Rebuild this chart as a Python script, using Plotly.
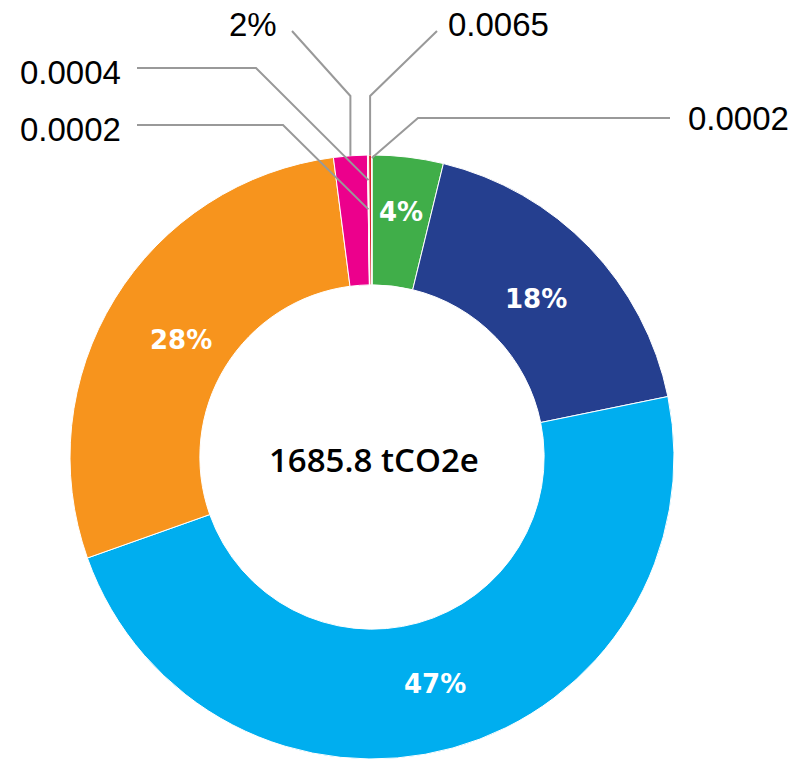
import math
import plotly.graph_objects as go

# ---- data ----
categories = ["Cat 1", "Cat 2", "Cat 3", "Cat 4", "Cat 5", "Cat 6", "Cat 7", "Cat 8", "Cat 9"]
shares = [3.8, 18.0, 47.8, 28.4, 1.8, 0.02, 0.04, 0.16, 0.02]
display_text = ["4%", "18%", "47%", "28%", "2%", "0.0002", "0.0004", "0.0065", "0.0002"]
total_label = "1685.8 tCO2e"
colors = ["#40ae49", "#253f8f", "#00aeef", "#f7941d", "#ec008c", "#8b5ca5", "#f26c4f", "#d7262e", "#a6ce39"]

# ---- layout geometry (pixels) ----
W, H = 798, 761
CX, CY, R = 372, 457, 302
HOLE = 0.57
inside_label_radius = [247, 228, 236, 224]

def px2paper(x, y):
    return x / W, 1 - y / H

# leader line geometry for small slices: (slice index, end radius frac, elbow points, label pos, anchor)
leaders = [
    (4, 1.0, [(292, 31), ("x", 96)], (279, 25), "right"),
    (5, 0.82, [(137, 125), (283, 125)], (123, 129), "right"),
    (6, 0.917, [(137, 68), (256, 68)], (123, 72), "right"),
    (7, 1.0, [(437, 31), ("x", 96)], (446, 25), "left"),
    (8, 0.99, [(670, 118), (418, 118)], (686, 118), "left"),
]

tot = sum(shares)
cum = 0
mids = []
for s in shares:
    mids.append((cum + s / 2) / tot * 2 * math.pi)
    cum += s

def pt(theta, r):
    return CX + r * math.sin(theta), CY - r * math.cos(theta)

x0p, y0p = px2paper(CX - R, CY + R)
x1p, y1p = px2paper(CX + R, CY - R)

fig = go.Figure(go.Pie(
    labels=categories,
    values=shares,
    sort=False,
    direction="clockwise",
    rotation=0,
    hole=HOLE,
    marker=dict(colors=colors, line=dict(color="white", width=1)),
    textinfo="none",
    hoverinfo="label+percent",
    domain=dict(x=[x0p, x1p], y=[max(0, y0p), y1p]),
    showlegend=False,
))

annotations = []
shapes = []

# inside labels for the main slices
for i in range(4):
    x, y = pt(mids[i], inside_label_radius[i])
    xp, yp = px2paper(x, y)
    annotations.append(dict(x=xp, y=yp, xref="paper", yref="paper", text=display_text[i],
                            showarrow=False, xanchor="center", yanchor="middle",
                            font=dict(family="DejaVu Sans", size=26, color="white", weight="bold")))

# leader lines and outside labels
for idx, rf, elbows, lpos, anchor in leaders:
    ex, ey = pt(mids[idx], R * rf)
    pts = []
    for (a, b) in elbows:
        pts.append((ex if a == "x" else a, b))
    pts.append((ex, ey))
    path = ""
    for k, (a, b) in enumerate(pts):
        xp, yp = px2paper(a, b)
        path += ("M" if k == 0 else " L") + f" {xp:.5f},{yp:.5f}"
    shapes.append(dict(type="path", path=path, xref="paper", yref="paper",
                       line=dict(color="#999999", width=2)))
    lx, ly = px2paper(*lpos)
    annotations.append(dict(x=lx, y=ly, xref="paper", yref="paper", text=display_text[idx],
                            showarrow=False, xanchor=anchor, yanchor="middle",
                            font=dict(family="Liberation Sans", size=33, color="black")))

cxp, cyp = px2paper(CX + 2, CY + 2)
annotations.append(dict(x=cxp, y=cyp, xref="paper", yref="paper", text=total_label,
                        showarrow=False, xanchor="center", yanchor="middle",
                        font=dict(family="Open Sans", size=33, color="black", weight=600)))

fig.update_layout(
    width=W, height=H,
    margin=dict(l=0, r=0, t=0, b=0),
    paper_bgcolor="white", plot_bgcolor="white",
    annotations=annotations, shapes=shapes,
)

fig.write_html("out.html", config={"displayModeBar": False},
               post_script="document.body.style.margin='0';document.body.style.overflow='hidden';")
